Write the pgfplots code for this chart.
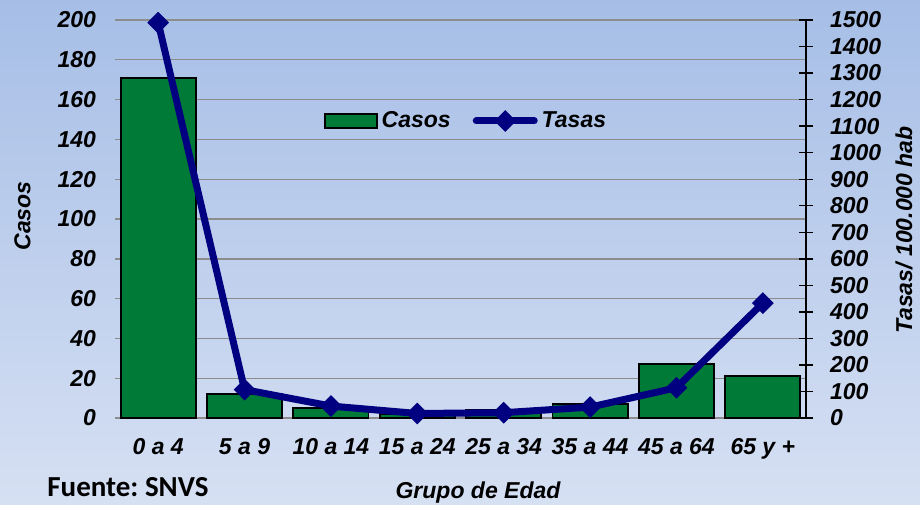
\documentclass[border=0pt]{standalone}
\usepackage{fontspec}
\setmainfont{Liberation Sans}
\newfontfamily\fuente{Carlito}
\usepackage{pgfplots}
\pgfplotsset{compat=1.18}

\definecolor{barverde}{HTML}{007A37}
\definecolor{lineaazul}{HTML}{000080}
\definecolor{fondoarriba}{HTML}{A6BEE6}
\definecolor{fondoabajo}{HTML}{D6E0F3}
\definecolor{rejilla}{HTML}{8C8C8C}

\pgfplotsset{
  leyenda barra/.style={legend image code/.code={\draw[##1] (0pt,-3.5pt) rectangle (26pt,3.5pt);}},
  leyenda linea/.style={legend image code/.code={\draw[##1, mark repeat=2, mark phase=2]
      plot coordinates {(0pt,0pt)(14.5pt,0pt)(29pt,0pt)};}},
}

\begin{document}
\frenchspacing
\begin{tikzpicture}[font=\fontsize{11.5}{13}\selectfont\bfseries\itshape]
  % background over the whole picture
  \shade[top color=fondoarriba, bottom color=fondoabajo] (0,0) rectangle (460pt,252pt);

  % bars (Casos), left axis
  \begin{axis}[
    at={(57.5pt,43pt)}, anchor=south west,
    scale only axis, width=345.5pt, height=199pt,
    xmin=-0.5, xmax=7.5, ymin=0, ymax=200,
    ytick={0,20,...,200},
    xtick={0,...,7},
    xticklabels={0 a 4, 5 a 9, 10 a 14, 15 a 24, 25 a 34, 35 a 44, 45 a 64, 65 y +},
    /pgf/number format/assume math mode=true,
    ticklabel style={font=\fontsize{11.5}{13}\selectfont\bfseries\itshape},
    yticklabel style={xshift=-6pt},
    xticklabel style={yshift=-6.5pt},
    axis line style={draw=none},
    major tick style={draw=none},
    ymajorgrids, grid style={rejilla, line width=0.7pt},
  ]
    \addplot[ybar, bar width=0.87, fill=barverde, draw=black, line width=0.9pt]
      coordinates {(0,171)(1,12)(2,5)(3,2)(4,4)(5,7)(6,27)(7,21)};
  \end{axis}

  % line (Tasas), right axis
  \begin{axis}[
    at={(57.5pt,43pt)}, anchor=south west,
    scale only axis, width=345.5pt, height=199pt,
    xmin=-0.5, xmax=7.5, ymin=0, ymax=1500,
    axis x line=none,
    axis y line*=right,
    ytick={0,100,...,1500},
    /pgf/number format/assume math mode=true,
    /pgf/number format/1000 sep={},
    ticklabel style={font=\fontsize{11.5}{13}\selectfont\bfseries\itshape},
    yticklabel style={xshift=5pt},
    y axis line style={black, line width=0.7pt},
    tick align=center, major tick length=7pt,
    major tick style={black, line width=0.7pt},
    clip=false,
    legend style={at={(233.5pt-57.5pt,191.5pt-43pt)}, anchor=center,
      draw=none, fill=none, legend columns=2,
      font=\fontsize{11.5}{13}\selectfont\bfseries\itshape,
      /tikz/every even column/.append style={column sep=9pt}},
    legend cell align=left,
  ]
    \addlegendimage{fill=barverde, draw=black, line width=0.9pt, leyenda barra}
    \addlegendentry{Casos}
    \addplot[lineaazul, line width=3.5pt, line cap=round, mark=square*, mark size=3.6pt,
      mark options={rotate=45, line width=0.5pt}, leyenda linea]
      coordinates {(0,1490)(1,107)(2,45)(3,17)(4,20)(5,41)(6,114)(7,433)};
    \addlegendentry{Tasas}
  \end{axis}

  \node[rotate=90] at (11.25pt,144pt) {Casos};
  \node[rotate=90] at (452pt,137pt) {Tasas/ 100.000 hab};
  \node at (239pt,5.5pt) {Grupo de Edad};
  \node[anchor=west, inner sep=0pt, font=\fuente\fontsize{14.5}{16}\selectfont\bfseries\upshape] at (23.5pt,8.5pt) {Fuente: SNVS};
\end{tikzpicture}
\end{document}
